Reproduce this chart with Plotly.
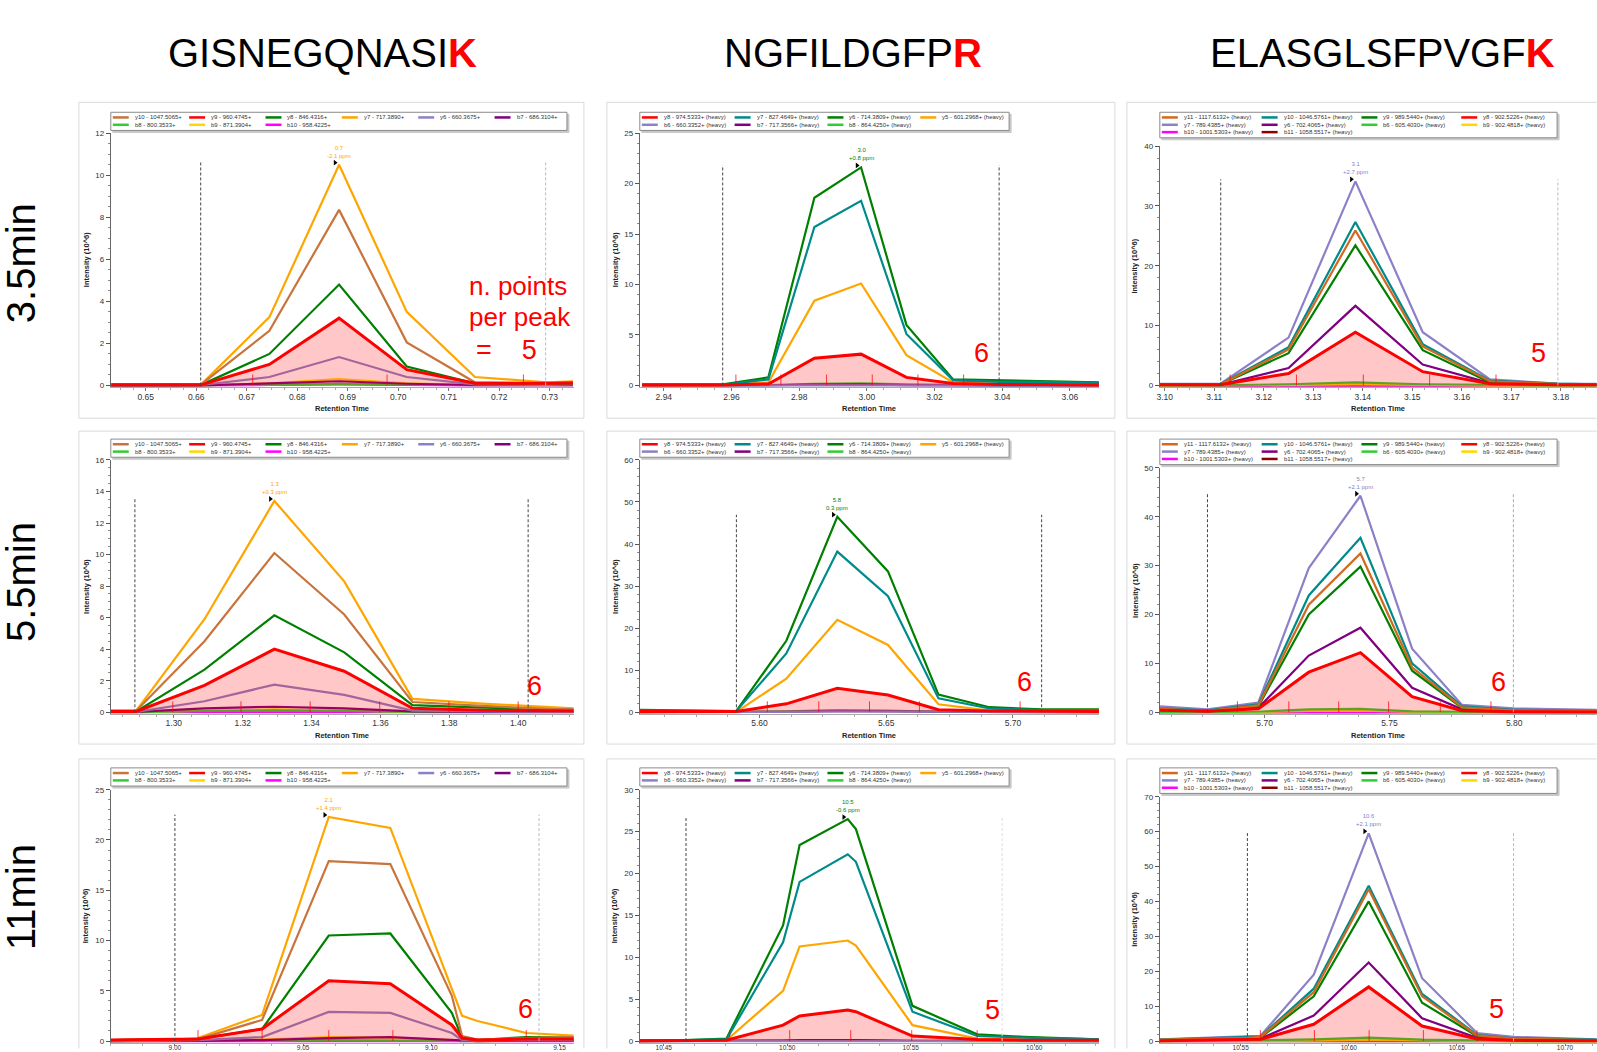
import plotly.graph_objects as go

W, H = 1597, 1052
FONT = "Liberation Sans, Arial, sans-serif"

# ---------------- data ----------------
peptides = ["GISNEGQNASI", "NGFILDGFP", "ELASGLSFPVGF"]
heavy_residue = ["K", "R", "K"]
gradients = ["3.5min", "5.5min", "11min"]
points_per_peak = [5, 6, 5, 6, 6, 6, 6, 5, 5]

GIS_ions = ["y10 - 1047.5065+", "y9 - 960.4745+", "y8 - 846.4316+", "y7 - 717.3890+",
            "y6 - 660.3675+", "b7 - 686.3104+", "b8 - 800.3533+", "b9 - 871.3904+",
            "b10 - 958.4225+"]
GIS_colors = ["#C8743C", "#FF0000", "#008000", "#FFA500", "#8C80C8", "#800080",
              "#32CD32", "#FFD700", "#FF00FF"]
NGF_ions = ["y8 - 974.5333+ (heavy)", "y7 - 827.4649+ (heavy)", "y6 - 714.3809+ (heavy)",
            "y5 - 601.2968+ (heavy)", "b6 - 660.3352+ (heavy)", "b7 - 717.3566+ (heavy)",
            "b8 - 864.4250+ (heavy)"]
NGF_colors = ["#FF0000", "#008B8B", "#008000", "#FFA500", "#8C80C8", "#800080", "#32CD32"]
ELA_ions = ["y11 - 1117.6132+ (heavy)", "y10 - 1046.5761+ (heavy)", "y9 - 989.5440+ (heavy)",
            "y8 - 902.5226+ (heavy)", "y7 - 789.4385+ (heavy)", "y6 - 702.4065+ (heavy)",
            "b6 - 605.4030+ (heavy)", "b9 - 902.4818+ (heavy)", "b10 - 1001.5303+ (heavy)",
            "b11 - 1058.5517+ (heavy)"]
ELA_colors = ["#D2691E", "#008B8B", "#008000", "#FF0000", "#8C80C8", "#800080",
              "#32CD32", "#FFD700", "#FF00FF", "#8B0000"]

# Panel A: GISNEGQNASIK, 3.5 min
A_rt = [0.6432, 0.6474, 0.6610, 0.6745, 0.6883, 0.7017, 0.7152, 0.7294, 0.7346]
A_y10 = [0.05, 0.05, 0.05, 2.6, 8.35, 2.05, 0.15, 0.1, 0.15]
A_y9 = [0.03, 0.03, 0.03, 1.0, 3.2, 0.75, 0.1, 0.1, 0.12]
A_y8 = [0.03, 0.03, 0.03, 1.5, 4.8, 0.9, 0.1, 0.08, 0.1]
A_y7 = [0.05, 0.05, 0.05, 3.25, 10.5, 3.5, 0.4, 0.15, 0.2]
A_y6 = [0.02, 0.02, 0.02, 0.4, 1.35, 0.4, 0.05, 0.03, 0.05]
A_b7 = [0.0, 0.0, 0.0, 0.1, 0.2, 0.08, 0.02, 0.02, 0.02]
A_b8 = [0.0, 0.0, 0.0, 0.03, 0.08, 0.03, 0.01, 0.01, 0.01]
A_b9 = [0.0, 0.0, 0.0, 0.1, 0.3, 0.1, 0.02, 0.02, 0.02]
A_b10 = [0.0, 0.0, 0.0, 0.02, 0.05, 0.02, 0.0, 0.0, 0.0]
A_scans = [0.6712, 0.6978, 0.7248]
A_bounds = [0.6609, 0.7292]
A_peak = ["0.7", "-2.1 ppm"]
A_xticks = [0.65, 0.66, 0.67, 0.68, 0.69, 0.70, 0.71, 0.72, 0.73]

# Panel B: NGFILDGFPR, 3.5 min
B_rt = [2.9336, 2.9575, 2.9709, 2.9845, 2.9983, 3.0117, 3.0255, 3.0390, 3.0525, 3.0662, 3.0692]
B_y8 = [0.05, 0.05, 0.15, 2.7, 3.1, 0.8, 0.2, 0.1, 0.1, 0.05, 0.05]
B_y7 = [0.05, 0.05, 0.6, 15.7, 18.3, 5.1, 0.5, 0.35, 0.35, 0.25, 0.25]
B_y6 = [0.1, 0.1, 0.8, 18.6, 21.6, 6.0, 0.6, 0.5, 0.45, 0.3, 0.3]
B_y5 = [0.03, 0.03, 0.3, 8.4, 10.1, 3.0, 0.3, 0.15, 0.15, 0.1, 0.1]
B_b6 = [0.0, 0.0, 0.02, 0.05, 0.06, 0.03, 0.01, 0.0, 0.0, 0.0, 0.0]
B_b7 = [0.0, 0.0, 0.02, 0.08, 0.1, 0.04, 0.01, 0.0, 0.0, 0.0, 0.0]
B_b8 = [0.0, 0.0, 0.03, 0.15, 0.2, 0.1, 0.02, 0.01, 0.01, 0.01, 0.01]
B_scans = [2.9613, 2.9746, 2.9881, 3.0016, 3.0151, 3.0286]
B_bounds = [2.9574, 3.0391]
B_peak = ["3.0", "+0.8 ppm"]
B_xticks = [2.94, 2.96, 2.98, 3.00, 3.02, 3.04, 3.06]

# Panel C: ELASGLSFPVGFK, 3.5 min
C_rt = [3.0988, 3.1112, 3.1250, 3.1385, 3.1521, 3.1657, 3.1793, 3.1872]
C_y11 = [0.15, 0.15, 6.0, 25.9, 6.5, 0.7, 0.25, 0.2]
C_y10 = [0.2, 0.2, 6.4, 27.3, 6.9, 0.8, 0.3, 0.2]
C_y9 = [0.15, 0.15, 5.4, 23.4, 5.9, 0.5, 0.2, 0.15]
C_y8 = [0.1, 0.1, 2.0, 8.9, 2.3, 0.3, 0.1, 0.1]
C_y7 = [0.25, 0.25, 8.0, 34.1, 8.9, 1.0, 0.3, 0.25]
C_y6 = [0.1, 0.1, 2.9, 13.3, 3.5, 0.4, 0.15, 0.1]
C_b6 = [0.02, 0.02, 0.2, 0.5, 0.2, 0.05, 0.02, 0.02]
C_b9 = [0.01, 0.01, 0.08, 0.2, 0.08, 0.02, 0.01, 0.01]
C_b10 = [0.0, 0.0, 0.05, 0.1, 0.05, 0.01, 0.0, 0.0]
C_b11 = [0.0, 0.0, 0.05, 0.12, 0.05, 0.01, 0.0, 0.0]
C_scans = [3.1132, 3.1266, 3.1401, 3.1535, 3.1669]
C_bounds = [3.1113, 3.1794]
C_peak = ["3.1", "+2.7 ppm"]
C_xticks = [3.10, 3.11, 3.12, 3.13, 3.14, 3.15, 3.16, 3.17, 3.18]

# Panel D: GISNEGQNASIK, 5.5 min
D_rt = [1.2817, 1.2891, 1.3089, 1.3292, 1.3495, 1.3693, 1.3896, 1.4099, 1.4161]
D_y10 = [0.1, 0.1, 4.5, 10.1, 6.2, 0.65, 0.4, 0.2, 0.2]
D_y9 = [0.05, 0.05, 1.7, 4.0, 2.6, 0.25, 0.12, 0.08, 0.08]
D_y8 = [0.05, 0.05, 2.7, 6.15, 3.8, 0.45, 0.3, 0.15, 0.15]
D_y7 = [0.1, 0.1, 5.9, 13.4, 8.3, 0.85, 0.55, 0.3, 0.25]
D_y6 = [0.03, 0.03, 0.7, 1.75, 1.1, 0.1, 0.05, 0.03, 0.03]
D_b7 = [0.02, 0.02, 0.25, 0.35, 0.25, 0.05, 0.03, 0.02, 0.02]
D_b8 = [0.01, 0.01, 0.08, 0.12, 0.08, 0.02, 0.01, 0.01, 0.01]
D_b9 = [0.01, 0.01, 0.1, 0.18, 0.12, 0.03, 0.02, 0.01, 0.01]
D_b10 = [0.0, 0.0, 0.02, 0.04, 0.02, 0.0, 0.0, 0.0, 0.0]
D_scans = [1.2997, 1.3195, 1.3396, 1.3598, 1.3799, 1.4000]
D_bounds = [1.2887, 1.4029]
D_peak = ["1.3", "+0.3 ppm"]
D_xticks = [1.30, 1.32, 1.34, 1.36, 1.38, 1.40]

# Panel E: NGFILDGFPR, 5.5 min
E_rt = [5.5526, 5.5909, 5.6106, 5.6307, 5.6507, 5.6706, 5.6907, 5.7113, 5.7347]
E_y8 = [0.2, 0.2, 2.0, 5.7, 4.1, 0.6, 0.3, 0.2, 0.2]
E_y7 = [0.4, 0.3, 14.0, 38.2, 27.6, 3.3, 0.9, 0.5, 0.5]
E_y6 = [0.6, 0.3, 17.0, 46.5, 33.5, 4.2, 1.2, 0.7, 0.7]
E_y5 = [0.2, 0.1, 8.0, 22.0, 16.0, 1.9, 0.4, 0.3, 0.3]
E_b6 = [0.0, 0.0, 0.1, 0.2, 0.15, 0.03, 0.0, 0.0, 0.0]
E_b7 = [0.0, 0.0, 0.1, 0.3, 0.2, 0.05, 0.0, 0.0, 0.0]
E_b8 = [0.05, 0.05, 0.2, 0.5, 0.4, 0.1, 0.05, 0.05, 0.05]
E_scans = [5.6031, 5.6234, 5.6434, 5.6631, 5.7028]
E_bounds = [5.5909, 5.7113]
E_peak = ["5.8", "0.3 ppm"]
E_xticks = [5.60, 5.65, 5.70]

# Panel F: ELASGLSFPVGFK, 5.5 min
F_rt = [5.6581, 5.6771, 5.6975, 5.7177, 5.7384, 5.7591, 5.7791, 5.7997, 5.8331]
F_y11 = [0.7, 0.3, 1.4, 22.0, 32.5, 9.2, 1.0, 0.4, 0.3]
F_y10 = [0.8, 0.4, 1.6, 23.9, 35.7, 10.0, 1.2, 0.5, 0.3]
F_y9 = [0.6, 0.3, 1.2, 20.0, 29.8, 8.5, 0.9, 0.3, 0.2]
F_y8 = [0.4, 0.2, 0.7, 8.2, 12.2, 3.2, 0.3, 0.1, 0.05]
F_y7 = [1.2, 0.6, 2.0, 29.5, 44.3, 13.0, 1.5, 0.8, 0.5]
F_y6 = [0.5, 0.2, 0.9, 11.6, 17.3, 5.0, 0.6, 0.2, 0.1]
F_b6 = [0.0, 0.05, 0.1, 0.6, 0.7, 0.2, 0.05, 0.0, 0.0]
F_b9 = [0.0, 0.0, 0.05, 0.3, 0.35, 0.1, 0.02, 0.0, 0.0]
F_b10 = [0.0, 0.0, 0.02, 0.1, 0.1, 0.03, 0.0, 0.0, 0.0]
F_b11 = [0.0, 0.0, 0.02, 0.1, 0.12, 0.03, 0.0, 0.0, 0.0]
F_scans = [5.6891, 5.7097, 5.7297, 5.7497, 5.7704, 5.7907]
F_bounds = [5.6771, 5.7997]
F_peak = ["5.7", "+2.1 ppm"]
F_xticks = [5.70, 5.75, 5.80]

# Panel G: GISNEGQNASIK, 11 min
G_rt = [8.975, 9.000, 9.009, 9.034, 9.060, 9.084, 9.108, 9.112, 9.118, 9.137, 9.1555]
G_y10 = [0.1, 0.15, 0.2, 2.1, 17.9, 17.6, 4.5, 0.5, 0.15, 0.3, 0.4]
G_y9 = [0.1, 0.15, 0.2, 1.2, 6.0, 5.7, 1.6, 0.3, 0.1, 0.2, 0.2]
G_y8 = [0.1, 0.15, 0.2, 1.2, 10.5, 10.7, 2.8, 0.3, 0.1, 0.4, 0.35]
G_y7 = [0.1, 0.15, 0.3, 2.6, 22.3, 21.2, 5.2, 2.5, 2.0, 0.8, 0.55]
G_y6 = [0.0, 0.05, 0.1, 0.4, 2.9, 2.8, 0.8, 0.1, 0.05, 0.1, 0.1]
G_b7 = [0.0, 0.0, 0.02, 0.1, 0.3, 0.4, 0.1, 0.02, 0.0, 0.05, 0.05]
G_b8 = [0.0, 0.0, 0.01, 0.05, 0.1, 0.1, 0.03, 0.0, 0.0, 0.02, 0.02]
G_b9 = [0.0, 0.0, 0.02, 0.15, 0.4, 0.35, 0.1, 0.02, 0.0, 0.02, 0.02]
G_b10 = [0.0, 0.0, 0.0, 0.02, 0.05, 0.05, 0.01, 0.0, 0.0, 0.0, 0.0]
G_scans = [9.009, 9.034, 9.060, 9.085, 9.137]
G_bounds = [9.000, 9.142]
G_peak = ["2.1", "+1.4 ppm"]
G_xticks = [9.00, 9.05, 9.10, 9.15]

# Panel H: NGFILDGFPR, 11 min
H_rt = [10.4403, 10.459, 10.4754, 10.4983, 10.505, 10.5245, 10.5278, 10.5507, 10.5769, 10.5957, 10.6266]
H_y8 = [0.05, 0.05, 0.1, 1.9, 3.0, 3.7, 3.5, 0.6, 0.2, 0.1, 0.1]
H_y7 = [0.1, 0.1, 0.2, 11.8, 19.0, 22.3, 21.4, 3.5, 0.6, 0.4, 0.2]
H_y6 = [0.1, 0.1, 0.3, 13.8, 23.4, 26.5, 25.3, 4.2, 0.8, 0.5, 0.2]
H_y5 = [0.05, 0.05, 0.1, 6.0, 11.3, 12.0, 11.4, 1.9, 0.3, 0.15, 0.1]
H_b6 = [0.0, 0.0, 0.0, 0.03, 0.05, 0.06, 0.05, 0.02, 0.0, 0.0, 0.0]
H_b7 = [0.0, 0.0, 0.0, 0.05, 0.1, 0.12, 0.1, 0.03, 0.0, 0.0, 0.0]
H_b8 = [0.0, 0.0, 0.0, 0.04, 0.08, 0.1, 0.08, 0.02, 0.0, 0.0, 0.0]
H_scans = [10.4767, 10.501, 10.5257, 10.5504, 10.5769]
H_bounds = [10.459, 10.587]
H_peak = ["10.5", "-0.6 ppm"]
H_xticks = [10.45, 10.50, 10.55, 10.60]

# Panel I: ELASGLSFPVGFK, 11 min
I_rt = [10.5126, 10.5531, 10.5592, 10.5838, 10.6092, 10.6339, 10.6593, 10.6762, 10.7147]
I_y11 = [0.4, 0.9, 1.2, 14.0, 43.5, 12.8, 1.6, 0.7, 0.3]
I_y10 = [0.4, 1.0, 1.3, 15.0, 44.5, 13.5, 1.8, 0.8, 0.4]
I_y9 = [0.3, 0.8, 1.0, 12.8, 40.0, 11.0, 1.4, 0.6, 0.3]
I_y8 = [0.1, 0.3, 0.5, 4.8, 15.5, 4.3, 0.6, 0.2, 0.1]
I_y7 = [0.5, 1.2, 1.5, 19.0, 59.5, 18.0, 2.3, 1.2, 0.5]
I_y6 = [0.2, 0.5, 0.7, 7.3, 22.5, 6.5, 0.9, 0.3, 0.2]
I_b6 = [0.0, 0.1, 0.2, 0.5, 1.0, 0.4, 0.1, 0.0, 0.0]
I_b9 = [0.0, 0.0, 0.05, 0.2, 0.4, 0.2, 0.05, 0.0, 0.0]
I_b10 = [0.0, 0.0, 0.0, 0.0, 0.0, 0.0, 0.0, 0.05, 0.3]
I_b11 = [0.0, 0.0, 0.02, 0.1, 0.2, 0.1, 0.02, 0.0, 0.0]
I_scans = [10.5591, 10.5841, 10.6094, 10.6345, 10.6593]
I_bounds = [10.5531, 10.6762]
I_peak = ["10.6", "+2.1 ppm"]
I_xticks = [10.55, 10.60, 10.65, 10.70]

# ---------------- panel specs (layout / style) ----------------
COL_X = [(108, 572), (638, 1098), (1159, 1597)]
COL_ION = [(GIS_ions, GIS_colors, 1, 3), (NGF_ions, NGF_colors, 0, 2), (ELA_ions, ELA_colors, 3, 4)]
COL_LEG = [(6, 76.5), (4, 93.0), (4, 100.0)]
ROW_LEG_TOP = [109, 438, 769]
FRAME_X = [(76, 582), (605, 1114), (1126, None)]
FRAME_Y = [(99, 417), (430, 745), (760, None)]

panels = [
    dict(r=0, c=0, rt=A_rt, s=[A_y10, A_y9, A_y8, A_y7, A_y6, A_b7, A_b8, A_b9, A_b10], scans=A_scans,
         bounds=A_bounds, peak=A_peak, xt=A_xticks, xr=[0.6431, 0.7348], top=130, zero=384, ymax=12, dy=2, my=0.5,
         rc="#bbbbbb", num=None),
    dict(r=0, c=1, rt=B_rt, s=[B_y8, B_y7, B_y6, B_y5, B_b6, B_b7, B_b8], scans=B_scans,
         bounds=B_bounds, peak=B_peak, xt=B_xticks, xr=[2.9329, 3.0686], top=130, zero=384, ymax=25, dy=5, my=1,
         rc="#444444", num=(980, 351)),
    dict(r=0, c=2, rt=C_rt, s=[C_y11, C_y10, C_y9, C_y8, C_y7, C_y6, C_b6, C_b9, C_b10, C_b11], scans=C_scans,
         bounds=C_bounds, peak=C_peak, xt=C_xticks, xr=[3.0990, 3.1873], top=143, zero=384, ymax=40, dy=10, my=2,
         rc="#bbbbbb", num=(1538, 351)),
    dict(r=1, c=0, rt=D_rt, s=[D_y10, D_y9, D_y8, D_y7, D_y6, D_b7, D_b8, D_b9, D_b10], scans=D_scans,
         bounds=D_bounds, peak=D_peak, xt=D_xticks, xr=[1.2817, 1.4162], top=459, zero=713, ymax=16, dy=2, my=0.5,
         rc="#444444", num=(533, 687)),
    dict(r=1, c=1, rt=E_rt, s=[E_y8, E_y7, E_y6, E_y5, E_b6, E_b7, E_b8], scans=E_scans,
         bounds=E_bounds, peak=E_peak, xt=E_xticks, xr=[5.5528, 5.7339], top=459, zero=713, ymax=60, dy=10, my=2,
         rc="#444444", num=(1023, 683)),
    dict(r=1, c=2, rt=F_rt, s=[F_y11, F_y10, F_y9, F_y8, F_y7, F_y6, F_b6, F_b9, F_b10, F_b11], scans=F_scans,
         bounds=F_bounds, peak=F_peak, xt=F_xticks, xr=[5.6580, 5.8332], top=467, zero=713, ymax=50, dy=10, my=2,
         rc="#aaaaaa", num=(1498, 683)),
    dict(r=2, c=0, rt=G_rt, s=[G_y10, G_y9, G_y8, G_y7, G_y6, G_b7, G_b8, G_b9, G_b10], scans=G_scans,
         bounds=G_bounds, peak=G_peak, xt=G_xticks, xr=[8.9750, 9.1556], top=791, zero=1044, ymax=25, dy=5, my=1,
         rc="#bbbbbb", num=(523, 1012)),
    dict(r=2, c=1, rt=H_rt, s=[H_y8, H_y7, H_y6, H_y5, H_b6, H_b7, H_b8], scans=H_scans,
         bounds=H_bounds, peak=H_peak, xt=H_xticks, xr=[10.4403, 10.6262], top=791, zero=1044, ymax=30, dy=5, my=1,
         rc="#dddddd", num=(991, 1013)),
    dict(r=2, c=2, rt=I_rt, s=[I_y11, I_y10, I_y9, I_y8, I_y7, I_y6, I_b6, I_b9, I_b10, I_b11], scans=I_scans,
         bounds=I_bounds, peak=I_peak, xt=I_xticks, xr=[10.5126, 10.7148], top=798, zero=1044, ymax=70, dy=10, my=2,
         rc="#bbbbbb", num=(1496, 1012)),
]

fig = go.Figure()
shapes, annotations, axes = [], [], {}


def px_x(px):
    return px / W


def px_y(py):
    return 1 - py / H


def paper_text(x, y, text, size, color="#000000", xanchor="center", yanchor="middle", angle=0):
    annotations.append(dict(xref="paper", yref="paper", x=px_x(x), y=px_y(y), text=text, showarrow=False,
                            xanchor=xanchor, yanchor=yanchor, textangle=angle,
                            font=dict(family=FONT, size=size, color=color)))


def paper_line(x0, y0, x1, y1, color, width, layer="above"):
    shapes.append(dict(type="line", xref="paper", yref="paper", x0=px_x(x0), y0=px_y(y0),
                       x1=px_x(x1), y1=px_y(y1), line=dict(color=color, width=width), layer=layer))


def paper_rect(x0, y0, x1, y1, color, width, fill="rgba(0,0,0,0)"):
    shapes.append(dict(type="rect", xref="paper", yref="paper", x0=px_x(x0), y0=px_y(y0),
                       x1=px_x(x1), y1=px_y(y1), line=dict(color=color, width=width), fillcolor=fill,
                       layer="below"))


# panel frames (sides that run off the page are not drawn)
FR = "#dadada"
for fy0, fy1 in FRAME_Y:
    for fx0, fx1 in FRAME_X:
        xe = fx1 if fx1 is not None else W - 0.5
        ye = fy1 if fy1 is not None else H - 0.5
        paper_line(fx0, fy0, xe, fy0, FR, 1, "below")
        paper_line(fx0, fy0, fx0, ye, FR, 1, "below")
        if fx1 is not None:
            paper_line(fx1, fy0, fx1, ye, FR, 1, "below")
        if fy1 is not None:
            paper_line(fx0, fy1, xe, fy1, FR, 1, "below")

for i, p in enumerate(panels):
    n = "" if i == 0 else str(i + 1)
    xa, ya = "x" + n, "y" + n
    x0, x1 = COL_X[p["c"]]
    ions, colors, fill_idx, peak_idx = COL_ION[p["c"]]
    top, zero, ymax = p["top"], p["zero"], p["ymax"]
    pad = 0.008
    bot = zero + pad * (zero - top)
    xr = p["xr"]
    xstep = p["xt"][1] - p["xt"][0]
    last_row = p["r"] == 2
    axes["xaxis" + n] = dict(domain=[px_x(x0), min(px_x(x1), 1.0)], range=xr, anchor=ya,
                             tickvals=p["xt"], tickformat=".2f", ticks="outside",
                             ticklen=2 if last_row else 3,
                             ticklabelstandoff=-4 if last_row else -2,
                             tickcolor="#777", showline=True, linecolor="#aaaaaa", linewidth=1,
                             showgrid=False, zeroline=False,
                             tickfont=dict(family=FONT, size=6.5 if last_row else 8.5, color="#333"),
                             minor=dict(ticks="outside", ticklen=2, tickcolor="#aaa",
                                        dtick=xstep / 4, tick0=p["xt"][0]))
    axes["yaxis" + n] = dict(domain=[px_y(bot), px_y(top)], range=[-pad * ymax, ymax], anchor=xa,
                             tick0=0, dtick=p["dy"], ticks="outside", ticklen=4, tickcolor="#555",
                             showline=True, linecolor="#666", linewidth=1, showgrid=False, zeroline=False,
                             tickfont=dict(family=FONT, size=8, color="#333"),
                             minor=dict(ticks="outside", ticklen=2, tickcolor="#888", dtick=p["my"], tick0=0))

    xs_per_px = (xr[1] - xr[0]) / (min(x1, W) - x0)
    ys_per_px = ymax / (zero - top)

    # chromatogram lines (filled series last)
    order = [j for j in range(len(p["s"])) if j != fill_idx][::-1] + [fill_idx]
    for j in order:
        tr = dict(x=p["rt"], y=p["s"][j], mode="lines", name=ions[j], xaxis=xa, yaxis=ya,
                  line=dict(color=colors[j], width=3 if j == fill_idx else 2.2), showlegend=False,
                  hoverinfo="skip")
        if j == fill_idx:
            tr.update(fill="tozeroy", fillcolor="rgba(255,0,0,0.22)")
        fig.add_trace(go.Scatter(**tr))

    # MS/MS scan markers
    mh = 11 * ys_per_px
    sx, sy = [], []
    for s in p["scans"]:
        sx += [s, s, None]
        sy += [0, mh, None]
    fig.add_trace(go.Scatter(x=sx, y=sy, mode="lines", xaxis=xa, yaxis=ya, showlegend=False,
                             line=dict(color="rgba(255,0,0,0.75)", width=1), hoverinfo="skip"))

    # integration boundaries
    top_val = max(max(s) for s in p["s"]) * 1.01
    for k, b in enumerate(p["bounds"]):
        fig.add_trace(go.Scatter(x=[b, b], y=[0, top_val], mode="lines", xaxis=xa, yaxis=ya,
                                 showlegend=False, hoverinfo="skip",
                                 line=dict(color="#444444" if k == 0 else p["rc"], width=1, dash="3px,2px")))

    # apex marker + label
    ps = p["s"][peak_idx]
    ai = ps.index(max(ps))
    ax_, ay_ = p["rt"][ai], ps[ai]
    fig.add_trace(go.Scatter(x=[ax_ - 4 * xs_per_px], y=[ay_ + 2 * ys_per_px], mode="markers",
                             xaxis=xa, yaxis=ya, showlegend=False, hoverinfo="skip",
                             marker=dict(symbol="triangle-right", size=5, color="#000")))
    annotations.append(dict(xref=xa, yref=ya, x=ax_, y=ay_, text=p["peak"][0] + "<br>" + p["peak"][1],
                            showarrow=False, yanchor="bottom", yshift=4,
                            font=dict(family=FONT, size=6, color=colors[peak_idx])))

    # axis titles (the bottom row's x title lies below the page in the original)
    if not last_row:
        paper_text((x0 + min(x1, W)) / 2, zero + 23, "<b>Retention Time</b>", 7.5, "#222")
    paper_text(x0 - 25, (top + zero) / 2, "<b>Intensity (10^6)</b>", 7.5, "#222", angle=-90)

    # legend box (drawn manually to match the compact vendor legend)
    ncol, colw = COL_LEG[p["c"]]
    nrow = -(-len(ions) // ncol)
    lt = ROW_LEG_TOP[p["r"]]
    lw = ncol * colw - 2
    lh = 3.5 + 7.4 * nrow
    paper_rect(x0 + 2, lt + 2, x0 + lw + 2, lt + lh + 2, "#c8c8c8", 1, "#c8c8c8")
    paper_rect(x0, lt, x0 + lw, lt + lh, "#8a8a8a", 1, "#ffffff")
    for j, name in enumerate(ions):
        cx = x0 + 2 + (j % ncol) * colw
        cy = lt + 5.2 + (j // ncol) * 7.4
        paper_line(cx, cy, cx + 16, cy, colors[j], 2.5)
        paper_text(cx + 20, cy, name, 6, "#333", xanchor="left")

    # points-per-peak numbers
    if p["num"] is not None:
        paper_text(p["num"][0], p["num"][1], str(points_per_peak[i]), 27, "#FF0000")

# special text block for the first panel
paper_text(465, 284, "n. points", 26, "#FF0000", xanchor="left")
paper_text(465, 315, "per peak", 26, "#FF0000", xanchor="left")
paper_text(472, 348, "=\u00a0\u00a0\u00a0\u00a0" + str(points_per_peak[0]), 27, "#FF0000", xanchor="left")

# column titles
col_cx = [320, 852, 1382]
for c in range(3):
    paper_text(col_cx[c], 49, peptides[c] + '<span style="color:#FF0000"><b>' + heavy_residue[c] + "</b></span>",
               40, "#000")

# row labels
row_cy = [261, 582, 899]
for r in range(3):
    paper_text(18, row_cy[r], gradients[r], 40, "#000", angle=-90)

fig.update_layout(width=W, height=H, margin=dict(l=0, r=0, t=0, b=0), paper_bgcolor="#ffffff",
                  plot_bgcolor="rgba(0,0,0,0)", shapes=shapes, annotations=annotations,
                  showlegend=False, font=dict(family=FONT), **axes)

fig.write_html("out.html")
